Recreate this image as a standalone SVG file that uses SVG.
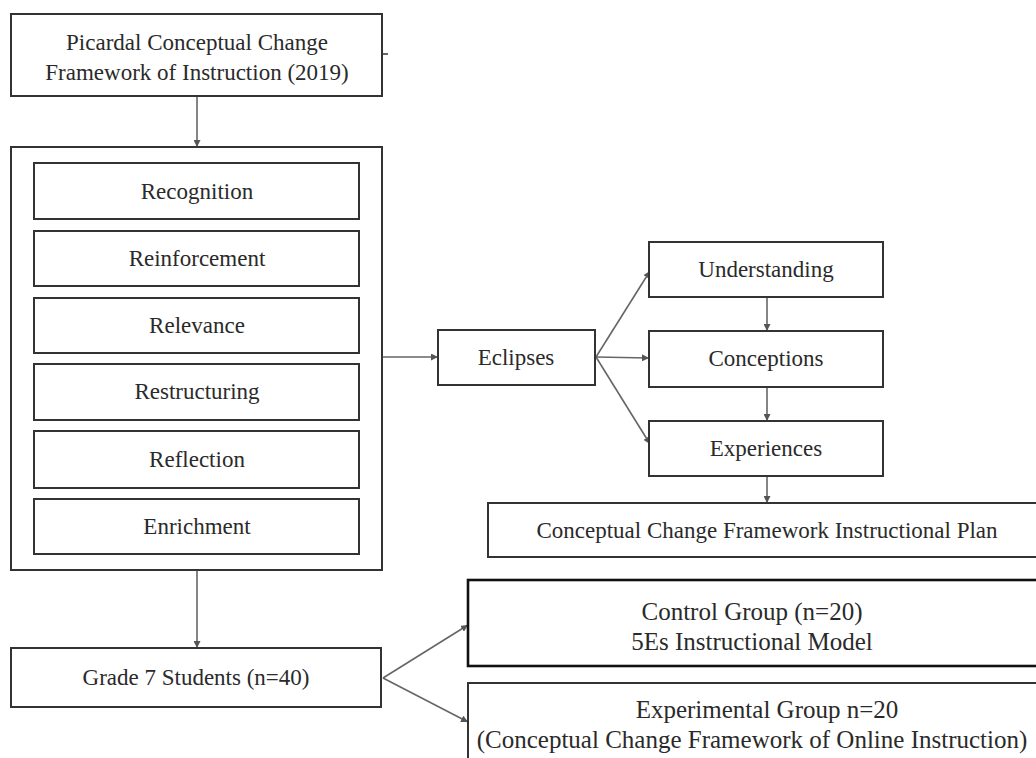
<svg xmlns="http://www.w3.org/2000/svg" width="1036" height="758" viewBox="0 0 1036 758">
<style>
.box{fill:#fff;stroke:#333;stroke-width:2}
.bold{fill:#fff;stroke:#111;stroke-width:2.6}
.t{font-family:"Liberation Serif","Times New Roman",serif;font-size:23px;fill:#2a2a2a;text-anchor:middle}
.p{font-family:"Liberation Serif","Times New Roman",serif;font-size:25px;fill:#2a2a2a;text-anchor:middle}
.c{fill:none;stroke:#666;stroke-width:1.6;marker-end:url(#ah)}
</style>
<defs>
<marker id="ah" viewBox="0 0 10 10" refX="10" refY="5" markerWidth="7" markerHeight="7" markerUnits="userSpaceOnUse" orient="auto">
<path d="M0,0 L10,5 L0,10 z" fill="#555"/>
</marker>
</defs>
<rect x="0" y="0" width="1036" height="758" fill="#fff"/>
<g id="connectors">
<line class="c" x1="197" y1="96" x2="197" y2="147"/>
<line class="c" x1="382" y1="357" x2="438" y2="357"/>
<line class="c" x1="596" y1="357" x2="650" y2="271"/>
<line class="c" x1="596" y1="357" x2="649" y2="358"/>
<line class="c" x1="596" y1="357" x2="650" y2="444"/>
<line class="c" x1="767" y1="297" x2="767" y2="331"/>
<line class="c" x1="767" y1="387" x2="767" y2="421"/>
<line class="c" x1="767" y1="476" x2="767" y2="503"/>
<line class="c" x1="197" y1="570" x2="197" y2="648"/>
<line class="c" x1="383" y1="678" x2="468" y2="625"/>
<line class="c" x1="383" y1="678" x2="468" y2="722"/>
<line x1="382" y1="54" x2="388" y2="54" stroke="#333" stroke-width="1.5"/>
</g>
<g id="picardal">
<rect class="box" x="11" y="14" width="371" height="82"/>
<text class="t" x="197" y="50">Picardal Conceptual Change</text>
<text class="t" x="197" y="80">Framework of Instruction (2019)</text>
</g>
<g id="container">
<rect class="box" x="11" y="147" width="371" height="423"/>
</g>
<g id="recognition">
<rect class="box" x="34" y="163" width="325" height="56"/>
<text class="t" x="197" y="199">Recognition</text>
</g>
<g id="reinforcement">
<rect class="box" x="34" y="231" width="325" height="55"/>
<text class="t" x="197" y="266">Reinforcement</text>
</g>
<g id="relevance">
<rect class="box" x="34" y="298" width="325" height="55"/>
<text class="t" x="197" y="333">Relevance</text>
</g>
<g id="restructuring">
<rect class="box" x="34" y="364" width="325" height="56"/>
<text class="t" x="197" y="399">Restructuring</text>
</g>
<g id="reflection">
<rect class="box" x="34" y="431" width="325" height="57"/>
<text class="t" x="197" y="467">Reflection</text>
</g>
<g id="enrichment">
<rect class="box" x="34" y="499" width="325" height="55"/>
<text class="t" x="197" y="534">Enrichment</text>
</g>
<g id="eclipses">
<rect class="box" x="438" y="330" width="157" height="55"/>
<text class="t" x="516" y="365">Eclipses</text>
</g>
<g id="understanding">
<rect class="box" x="649" y="242" width="234" height="55"/>
<text class="t" x="766" y="277">Understanding</text>
</g>
<g id="conceptions">
<rect class="box" x="649" y="331" width="234" height="56"/>
<text class="t" x="766" y="366">Conceptions</text>
</g>
<g id="experiences">
<rect class="box" x="649" y="421" width="234" height="55"/>
<text class="t" x="766" y="456">Experiences</text>
</g>
<g id="plan">
<rect class="box" x="488" y="503" width="570" height="54"/>
<text class="t" x="767" y="538">Conceptual Change Framework Instructional Plan</text>
</g>
<g id="grade7">
<rect class="box" x="11" y="648" width="370" height="59"/>
<text class="t" x="196" y="685">Grade 7 Students (n=40)</text>
</g>
<g id="control">
<rect class="bold" x="468" y="580" width="580" height="86"/>
<text class="p" x="752" y="620">Control Group (n=20)</text>
<text class="p" x="752" y="650">5Es Instructional Model</text>
</g>
<g id="experimental">
<rect class="box" x="468" y="683" width="580" height="90"/>
<text class="p" x="767" y="718">Experimental Group n=20</text>
<text class="p" x="752" y="748">(Conceptual Change Framework of Online Instruction)</text>
</g>
</svg>
